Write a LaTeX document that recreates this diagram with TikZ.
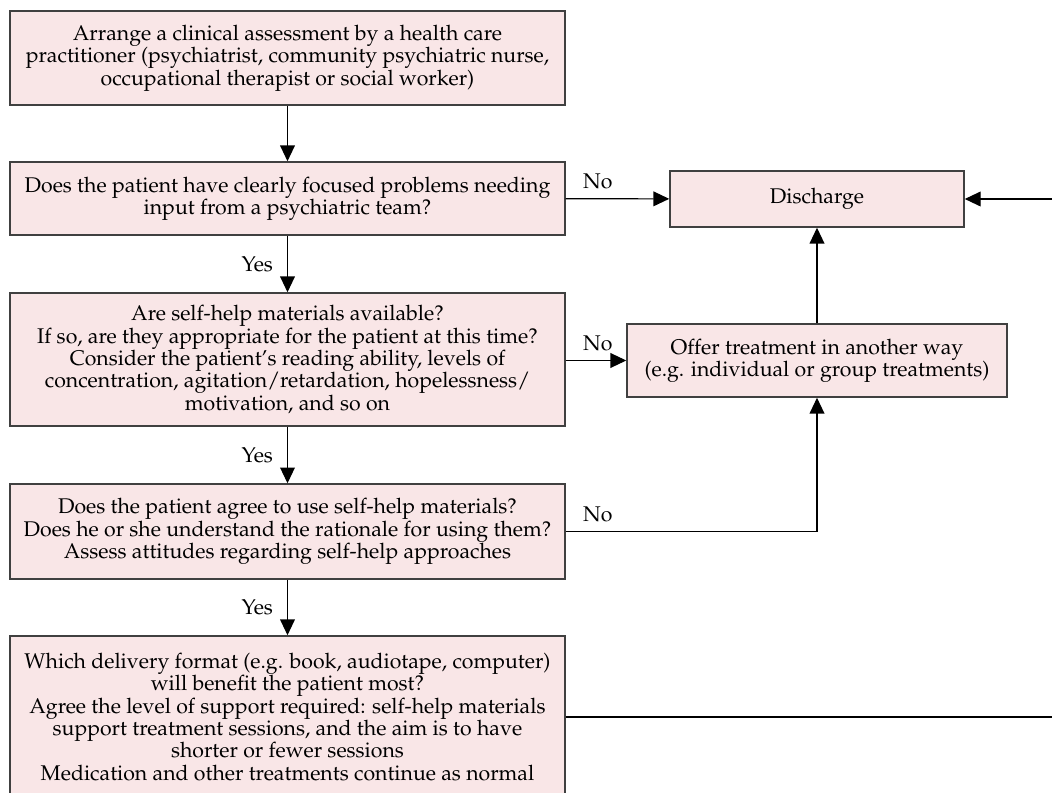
\documentclass[tikz,border=0pt]{standalone}
\usepackage[T1]{fontenc}
\usepackage{mathpazo}
\usepackage{xcolor}
\usepackage{tikz}
\usetikzlibrary{arrows.meta, positioning}
\definecolor{boxfill}{RGB}{249,230,231}
\definecolor{boxline}{RGB}{64,64,64}

\begin{document}
\begin{tikzpicture}[x=0.475pt, y=-0.475pt,
    font=\fontsize{10.1}{10.6}\selectfont,
    stepbox/.style={draw=boxline, fill=boxfill, line width=0.7pt, align=center,
      inner sep=2pt, minimum width=263.6pt},
    sidebox/.style={draw=boxline, fill=boxfill, line width=0.7pt, align=center,
      inner sep=2pt},
    link/.style={-{Triangle[length=7.5pt, width=7pt]}, line width=0.55pt},
    yeslabel/.style={left, pos=0.5, xshift=-3.3pt},
    nolabel/.style={above right, pos=0, xshift=4.7pt, yshift=1pt}]
  \useasboundingbox (0,0) rectangle (1052,793);
  \clip (0,0) rectangle (1052,793);
  \node[stepbox, minimum height=44.7pt] (assess) at (287.5,58)
    {Arrange a clinical assessment by a health care\\
     practitioner (psychiatrist, community psychiatric nurse,\\
     occupational therapist or social worker)};
  \node[stepbox, minimum height=34.7pt] (focus) at (287.5,198.5)
    {Does the patient have clearly focused problems needing\\
     input from a psychiatric team?};
  \node[stepbox, minimum height=63.2pt] (materials) at (287.5,359.5)
    {Are self-help materials available?\\
     If so, are they appropriate for the patient at this time?\\
     Consider the patient's reading ability, levels of\\
     concentration, agitation/retardation, hopelessness/\\
     motivation, and so on};
  \node[stepbox, minimum height=45.1pt] (agree) at (287.5,531.5)
    {Does the patient agree to use self-help materials?\\
     Does he or she understand the rationale for using them?\\
     Assess attitudes regarding self-help approaches};
  \node[stepbox, minimum height=77pt] (format) at (287.5,717)
    {Which delivery format (e.g. book, audiotape, computer)\\
     will benefit the patient most?\\
     Agree the level of support required: self-help materials\\
     support treatment sessions, and the aim is to have\\
     shorter or fewer sessions\\
     Medication and other treatments continue as normal};
  \node[sidebox, minimum width=139.7pt, minimum height=26.6pt] (discharge) at (817,199) {Discharge};
  \node[sidebox, minimum width=180.5pt, minimum height=34.7pt] (offer) at (817,360.5)
    {Offer treatment in another way\\ (e.g. individual or group treatments)};
  \coordinate (offpage) at (1075,717);
  \draw[link] (assess) -- (focus);
  \draw[link] (focus) -- node[yeslabel] {Yes} (materials);
  \draw[link] (materials) -- node[yeslabel] {Yes} (agree);
  \draw[link] (agree) -- node[yeslabel] {Yes} (format);
  \draw[link] (focus) -- node[nolabel] {No} (discharge);
  \draw[link] (offer.west -| materials.east) -- node[nolabel] {No} (offer.west);
  \draw[link] (agree.east) -| node[nolabel] {No} (offer.south);
  \draw[link] (offer) -- (discharge);
  \draw[link] (format.east) -- (offpage) |- (discharge.east);
\end{tikzpicture}
\end{document}
